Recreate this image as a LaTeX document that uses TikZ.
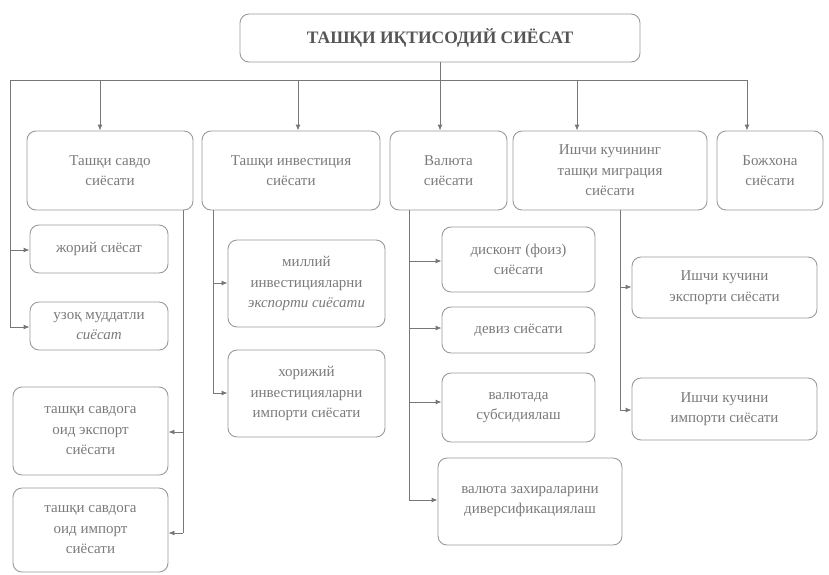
\documentclass[tikz,border=0pt]{standalone}
\usepackage{fontspec}
\setmainfont{Liberation Serif}
\usetikzlibrary{arrows.meta}
\definecolor{txt}{HTML}{7A7A7A}
\definecolor{ttl}{HTML}{555555}
\definecolor{edge}{HTML}{9A9A9A}
\definecolor{wire}{HTML}{777777}
\tikzset{
  box/.style={draw=edge, line width=0.9pt, rounded corners=9pt, align=center,
    text=txt, font=\fontsize{15}{20.5}\selectfont, inner sep=0pt},
  wirestyle/.style={draw=wire, line width=0.9pt},
  arr/.style={wirestyle, -{Latex[length=6pt,width=5pt]}},
}
\newcommand{\bx}[6]{% name, x1, y1, x2, y2, text
  \node[box, minimum width=#4pt-#2pt, minimum height=#5pt-#3pt] (#1) at ({(#2+#4)/2},{(#3+#5)/2}) {#6};}
\begin{document}
\begin{tikzpicture}[x=1pt,y=-1pt]
\useasboundingbox (0,0) rectangle (829,574);
% top
\node[box, text=ttl, font=\fontsize{17.5}{20}\selectfont\bfseries, minimum width=400pt, minimum height=48pt] (top) at (440,38) {ТАШҚИ ИҚТИСОДИЙ СИЁСАТ};
% level 1
\bx{A1}{27}{131}{193}{210}{Ташқи савдо\\сиёсати}
\bx{A2}{202}{131}{380}{210}{Ташқи инвестиция\\сиёсати}
\bx{A3}{390}{131}{507}{210}{Валюта\\сиёсати}
\bx{A4}{513}{131}{707}{210}{Ишчи кучининг\\ташқи миграция\\сиёсати}
\bx{A5}{717}{131}{823}{210}{Божхона\\сиёсати}
% level 2
\bx{B1}{30}{225}{168}{273}{жорий сиёсат}
\bx{B2}{30}{302}{168}{350}{узоқ муддатли\\\textit{сиёсат}}
\bx{B3}{13}{387}{168}{475}{ташқи савдога\\оид экспорт\\сиёсати}
\bx{B4}{13}{488}{168}{572}{ташқи савдога\\оид импорт\\сиёсати}
\bx{C1}{228}{240}{385}{327}{миллий\\инвестицияларни\\\textit{экспорти сиёсати}}
\bx{C2}{228}{350}{385}{437}{хорижий\\инвестицияларни\\импорти сиёсати}
\bx{D1}{442}{227}{595}{292}{дисконт (фоиз)\\сиёсати}
\bx{D2}{442}{307}{595}{353}{девиз сиёсати}
\bx{D3}{442}{373}{595}{442}{валютада\\субсидиялаш}
\bx{D4}{438}{458}{622}{545}{валюта захираларини\\диверсификациялаш}
\bx{E1}{632}{257}{817}{318}{Ишчи кучини\\экспорти сиёсати}
\bx{E2}{632}{378}{817}{440}{Ишчи кучини\\импорти сиёсати}
% junction coordinates
\coordinate (hl) at (10,80);
\coordinate (hr) at (747,80);
\coordinate (ha1) at (100,80);
\coordinate (ha2) at (298,80);
\coordinate (ha4) at (577,80);
\coordinate (l1) at (10,250);
\coordinate (l2) at (10,327);
\coordinate (s1) at (183,210);
\coordinate (s1a) at (183,432);
\coordinate (s1b) at (183,533);
\coordinate (s2) at (213,210);
\coordinate (s2a) at (213,283);
\coordinate (s2b) at (213,393);
\coordinate (s3) at (409,210);
\coordinate (s3a) at (409,261);
\coordinate (s3b) at (409,328);
\coordinate (s3c) at (409,402);
\coordinate (s3d) at (409,500);
\coordinate (s4) at (620,210);
\coordinate (s4a) at (620,287);
\coordinate (s4b) at (620,410);
% main trunk
\draw[arr] (top.south) -- (top.south |- A3.north);
\draw[wirestyle] (l2) -- (hl) -- (hr);
\draw[arr] (hr) -- (hr |- A5.north);
\draw[arr] (ha1) -- (ha1 |- A1.north);
\draw[arr] (ha2) -- (ha2 |- A2.north);
\draw[arr] (ha4) -- (ha4 |- A4.north);
\draw[arr] (l1) -- (l1 -| B1.west);
\draw[arr] (l2) -- (l2 -| B2.west);
% Ташқи савдо
\draw[wirestyle] (s1) -- (s1b);
\draw[arr] (s1a) -- (s1a -| B3.east);
\draw[arr] (s1b) -- (s1b -| B4.east);
% инвестиция
\draw[wirestyle] (s2) -- (s2b);
\draw[arr] (s2a) -- (s2a -| C1.west);
\draw[arr] (s2b) -- (s2b -| C2.west);
% валюта
\draw[wirestyle] (s3) -- (s3d);
\draw[arr] (s3a) -- (s3a -| D1.west);
\draw[arr] (s3b) -- (s3b -| D2.west);
\draw[arr] (s3c) -- (s3c -| D3.west);
\draw[arr] (s3d) -- (s3d -| D4.west);
% миграция
\draw[wirestyle] (s4) -- (s4b);
\draw[arr] (s4a) -- (s4a -| E1.west);
\draw[arr] (s4b) -- (s4b -| E2.west);
\end{tikzpicture}
\end{document}
